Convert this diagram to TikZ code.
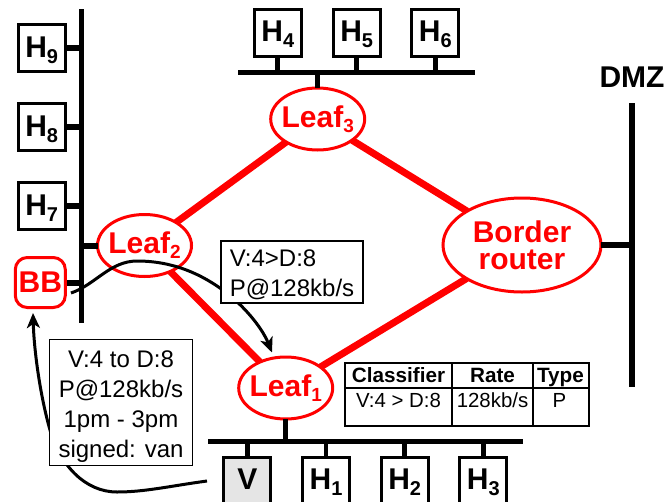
\documentclass[tikz,border=0pt]{standalone}
\usepackage{fontspec}
\setmainfont{Liberation Sans}
\usetikzlibrary{shapes.geometric,arrows.meta}
\definecolor{netred}{RGB}{255,0,0}
\newcommand{\hsub}[1]{\raisebox{-6pt}{\fontsize{20}{20}\selectfont #1}}
\newcommand{\lsub}[1]{\raisebox{-5pt}{\fontsize{19}{19}\selectfont #1}}
\newcommand{\drop}[2]{\makebox[0pt]{\raisebox{-#1pt}[0pt][0pt]{#2}}}
\tikzset{
  hostbox/.style={draw=black,line width=3pt,fill=white,rectangle,inner sep=0pt,minimum width=47pt,minimum height=47pt,font=\fontsize{30}{30}\selectfont\bfseries},
  leafnode/.style={draw=netred,line width=3pt,fill=white,ellipse,inner sep=0pt,outer sep=0pt,minimum width=94pt,minimum height=62pt,text=netred,font=\fontsize{30}{30}\selectfont\bfseries},
  busline/.style={draw=black,line width=5pt},
  stub/.style={draw=black,line width=4.7pt},
  thickstub/.style={draw=black,line width=6pt},
  redlink/.style={draw=netred,line width=7pt},
  flow/.style={draw=black,line width=3pt,-{Stealth[length=15pt,width=13pt,inset=4pt]}},
  infobox/.style={draw=black,line width=1.5pt,fill=white,rectangle,inner sep=0pt,font=\fontsize{24}{30}\selectfont},
  tablegrid/.style={draw=black,line width=2pt},
  headcell/.style={inner sep=0pt,anchor=base,font=\fontsize{20.7}{24}\selectfont\bfseries},
  bodycell/.style={inner sep=0pt,anchor=base,font=\fontsize{20.4}{24}\selectfont},
}
\begin{document}
\begin{tikzpicture}[x=1pt,y=-1pt]
\useasboundingbox (0,0) rectangle (667,501);
% routers
\node[leafnode] (leaf3) at (317.7,119) {\drop{8}{Leaf\lsub{3}}};
\node[leafnode] (leaf2) at (144.5,245.5) {\drop{8}{Leaf\lsub{2}}};
\node[leafnode] (leaf1) at (285.7,388) {\drop{8}{Leaf\lsub{1}}};
\node[leafnode,minimum width=158pt,minimum height=94pt] (border) at (522,245) {\drop{10.5}{\fontsize{30}{26}\selectfont\begin{tabular}{@{}c@{}}Border\\router\end{tabular}}};
\node[draw=netred,line width=3pt,fill=white,rectangle,rounded corners=12pt,inner sep=0pt,minimum width=50pt,minimum height=50pt,text=netred,font=\fontsize{30}{30}\selectfont\bfseries] (bb) at (40.3,282.5) {BB};
% red links
\draw[redlink] (leaf2) -- (leaf3);
\draw[redlink] (leaf2) -- (leaf1);
\draw[redlink] (leaf3) -- (border);
\draw[redlink] (leaf1) -- (border);
% hosts
\node[hostbox] (h9) at (41.7,48.3) {\drop{9}{H\hsub{9}}};
\node[hostbox] (h8) at (41.7,127) {\drop{9}{H\hsub{8}}};
\node[hostbox] (h7) at (41.7,206) {\drop{9}{H\hsub{7}}};
\node[hostbox] (h4) at (277.8,32.5) {\drop{9}{H\hsub{4}}};
\node[hostbox] (h5) at (356.7,32.5) {\drop{9}{H\hsub{5}}};
\node[hostbox] (h6) at (435.3,32.5) {\drop{9}{H\hsub{6}}};
\node[hostbox,fill=black!10] (v) at (247.3,480.7) {\drop{9}{V}};
\node[hostbox] (h1) at (326,480.7) {\drop{9}{H\hsub{1}}};
\node[hostbox] (h2) at (404.7,480.7) {\drop{9}{H\hsub{2}}};
\node[hostbox] (h3) at (483.3,480.7) {\drop{9}{H\hsub{3}}};
% buses
\coordinate (busLa) at (81,9);
\coordinate (busLb) at (81,323);
\coordinate (busTa) at (238,72);
\coordinate (busTb) at (475,72);
\coordinate (busBa) at (208,441);
\coordinate (busBb) at (523,441);
\coordinate (busRa) at (632,103);
\coordinate (busRb) at (632,387);
\draw[busline] (busLa) -- (busLb);
\draw[busline] (busTa) -- (busTb);
\draw[busline] (busBa) -- (busBb);
\draw[busline,line width=6pt] (busRa) -- (busRb);
% stubs
\draw[thickstub] (h9.east) -- (h9.east -| busLa);
\draw[thickstub] (h8.east) -- (h8.east -| busLa);
\draw[thickstub] (h7.east) -- (h7.east -| busLa);
\draw[thickstub] (bb.east) -- (bb.east -| busLa);
\draw[thickstub] (leaf2.west) -- (leaf2.west -| busLa);
\draw[stub] (h4.south) -- (h4.south |- busTa);
\draw[stub] (h5.south) -- (h5.south |- busTa);
\draw[stub] (h6.south) -- (h6.south |- busTa);
\draw[stub] (leaf3.north) -- (leaf3.north |- busTa);
\draw[stub] (leaf1.south) -- (leaf1.south |- busBa);
\draw[stub] (v.north) -- (v.north |- busBa);
\draw[stub] (h1.north) -- (h1.north |- busBa);
\draw[stub] (h2.north) -- (h2.north |- busBa);
\draw[stub] (h3.north) -- (h3.north |- busBa);
\draw[thickstub] (border.east) -- (border.east -| busRa);
% flows
\coordinate (flowAstart) at (71,293);
\coordinate (flowAtip) at (272,352.5);
\coordinate (flowBstart) at (207,481);
\coordinate (flowBtip) at (33,313);
\draw[flow] (flowAstart) .. controls (95,285) and (110,261) .. (137,261) .. controls (170,261) and (200,272) .. (228,294) .. controls (248,310) and (263,330) .. (flowAtip);
\draw[flow] (flowBstart) .. controls (170,486) and (145,492) .. (117,492) .. controls (85,492) and (60,465) .. (50,430) .. controls (40,395) and (34,350) .. (flowBtip);
% info boxes
\node[infobox,minimum width=142pt,minimum height=62pt,align=left] (info1) at (292,272) {\rule{0pt}{23pt}V:4>D:8\\P@128kb/s};
\node[infobox,minimum width=143pt,minimum height=126pt,align=center] (info2) at (121,402.7) {\rule{0pt}{24pt}V:4 to D:8\\P@128kb/s\\1pm - 3pm\\signed: van};
% table
\node[draw=black,line width=2pt,fill=white,rectangle,inner sep=0pt,minimum width=244pt,minimum height=63pt] (tbl) at (466.5,394.3) {};
\coordinate (tblrow) at (344.5,387.7);
\coordinate (tblcolA) at (452.3,362.8);
\coordinate (tblcolB) at (532.7,362.8);
\draw[tablegrid] (tblrow) -- (tblrow -| tbl.east);
\draw[tablegrid] (tblcolA) -- (tblcolA |- tbl.south);
\draw[tablegrid] (tblcolB) -- (tblcolB |- tbl.south);
\node[headcell] (t1) at (398.5,382.2) {Classifier};
\node[headcell] (t2) at (492.5,382.2) {Rate};
\node[headcell] (t3) at (560.5,382.2) {Type};
\node[bodycell] (t4) at (398.5,407.5) {V:4 > D:8};
\node[bodycell] (t5) at (492.5,407.5) {128kb/s};
\node[bodycell] (t6) at (559.5,407.5) {P};
% DMZ
\node[inner sep=0pt,font=\fontsize{30}{30}\selectfont\bfseries] (dmz) at (632,77) {DMZ};
\end{tikzpicture}
\end{document}
